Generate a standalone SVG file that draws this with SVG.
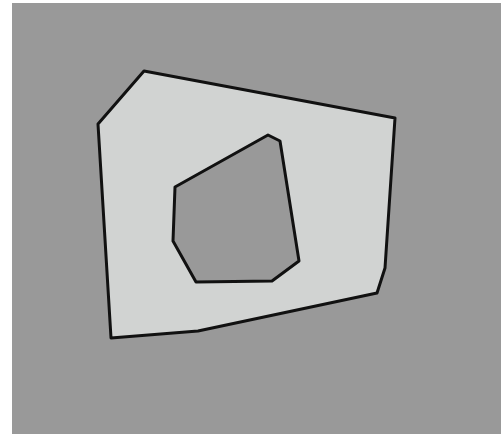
<svg xmlns="http://www.w3.org/2000/svg" width="501" height="434" viewBox="0 0 501 434">
<style>
.ol{stroke:#111;stroke-width:3;stroke-linejoin:round}
</style>
<rect x="0" y="0" width="501" height="434" fill="#ffffff"/>
<rect x="12" y="3" width="489" height="431" fill="#999999"/>
<g id="outer">
<polygon class="ol" fill="#d1d3d2" points="144,71 395,118 385,268 377,293 198,331 111,338 98,124"/>
</g>
<g id="inner">
<polygon class="ol" fill="#999999" points="268,135 280,141 299,261 272,281 196,282 173,241 175,187"/>
</g>
</svg>
